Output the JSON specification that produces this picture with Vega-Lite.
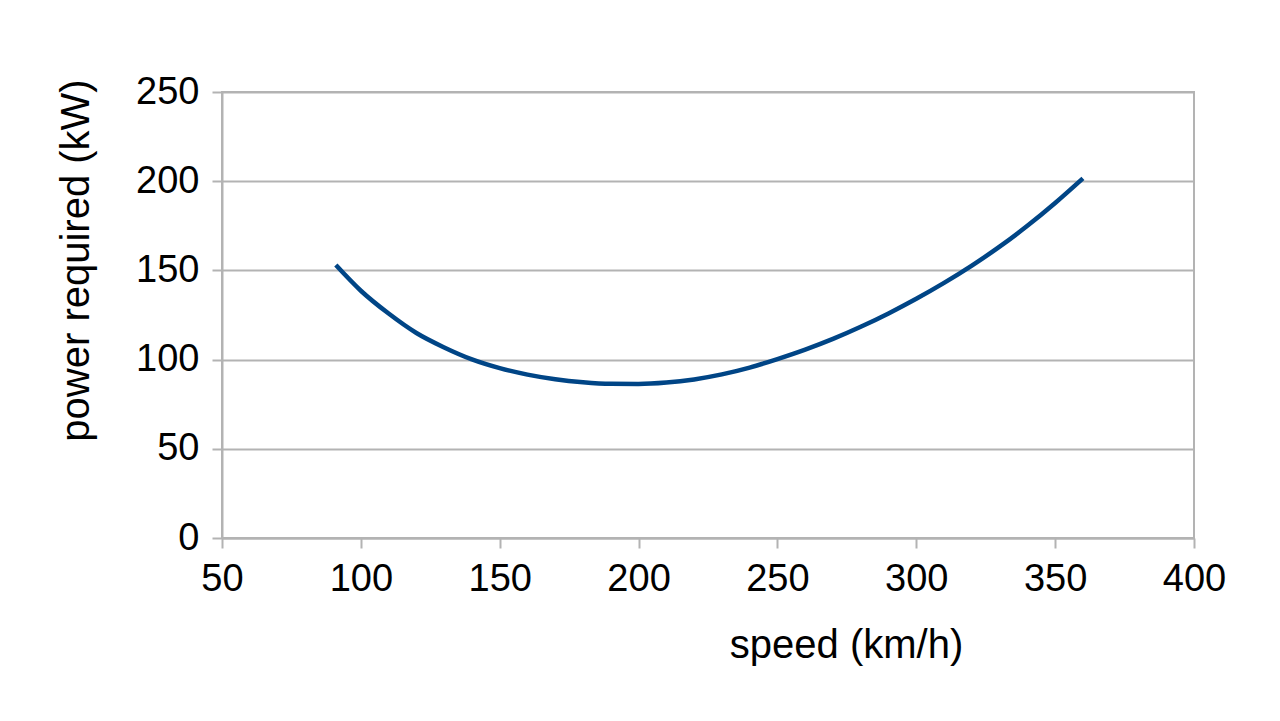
{
  "$schema": "https://vega.github.io/schema/vega-lite/v6.json",
  "width": 972,
  "height": 446,
  "autosize": {"type": "none"},
  "padding": {"left": 222, "top": 92, "right": 86, "bottom": 183},
  "background": "white",
  "data": {
    "values": [
      {"speed": 91, "power": 153.0},
      {"speed": 100, "power": 138.6},
      {"speed": 110, "power": 125.8},
      {"speed": 120, "power": 114.9},
      {"speed": 130, "power": 106.8},
      {"speed": 140, "power": 100.1},
      {"speed": 150, "power": 95.2},
      {"speed": 160, "power": 91.6},
      {"speed": 170, "power": 89.0},
      {"speed": 180, "power": 87.3},
      {"speed": 190, "power": 86.4},
      {"speed": 200, "power": 86.3},
      {"speed": 210, "power": 87.1},
      {"speed": 220, "power": 88.9},
      {"speed": 230, "power": 91.7},
      {"speed": 240, "power": 95.5},
      {"speed": 250, "power": 100.3},
      {"speed": 260, "power": 105.6},
      {"speed": 270, "power": 111.6},
      {"speed": 280, "power": 118.4},
      {"speed": 290, "power": 125.9},
      {"speed": 300, "power": 134.1},
      {"speed": 310, "power": 143.0},
      {"speed": 320, "power": 152.7},
      {"speed": 330, "power": 163.3},
      {"speed": 340, "power": 175.0},
      {"speed": 350, "power": 187.8},
      {"speed": 360, "power": 201.6}
    ]
  },
  "mark": {"type": "line", "color": "#004586", "strokeWidth": 4.5, "interpolate": "monotone"},
  "encoding": {
    "x": {
      "field": "speed",
      "type": "quantitative",
      "scale": {"domain": [50, 400], "nice": false, "zero": false},
      "axis": {
        "title": "speed (km/h)",
        "values": [50, 100, 150, 200, 250, 300, 350, 400],
        "grid": false,
        "titleX": 624,
        "titleY": 119,
        "titleFontSize": 40,
        "titleBaseline": "alphabetic",
        "labelPadding": 12
      }
    },
    "y": {
      "field": "power",
      "type": "quantitative",
      "scale": {"domain": [0, 250], "nice": false},
      "axis": {
        "title": "power required (kW)",
        "values": [0, 50, 100, 150, 200, 250],
        "grid": true,
        "titleX": -134,
        "titleY": 168,
        "titleFontSize": 40,
        "titleAngle": -90,
        "titleAlign": "center",
        "titleBaseline": "alphabetic",
        "labelPadding": 13
      }
    }
  },
  "config": {
    "view": {"stroke": "#b3b3b3", "strokeWidth": 2},
    "axis": {
      "labelFont": "Liberation Sans",
      "titleFont": "Liberation Sans",
      "labelFontSize": 38,
      "labelColor": "#000000",
      "titleColor": "#000000",
      "titleFontWeight": "normal",
      "domainColor": "#b3b3b3",
      "domainWidth": 2,
      "tickColor": "#b3b3b3",
      "tickWidth": 2,
      "tickSize": 10,
      "gridColor": "#b3b3b3",
      "gridWidth": 2,
      "labelFlush": false,
      "labelOverlap": false
    }
  }
}
